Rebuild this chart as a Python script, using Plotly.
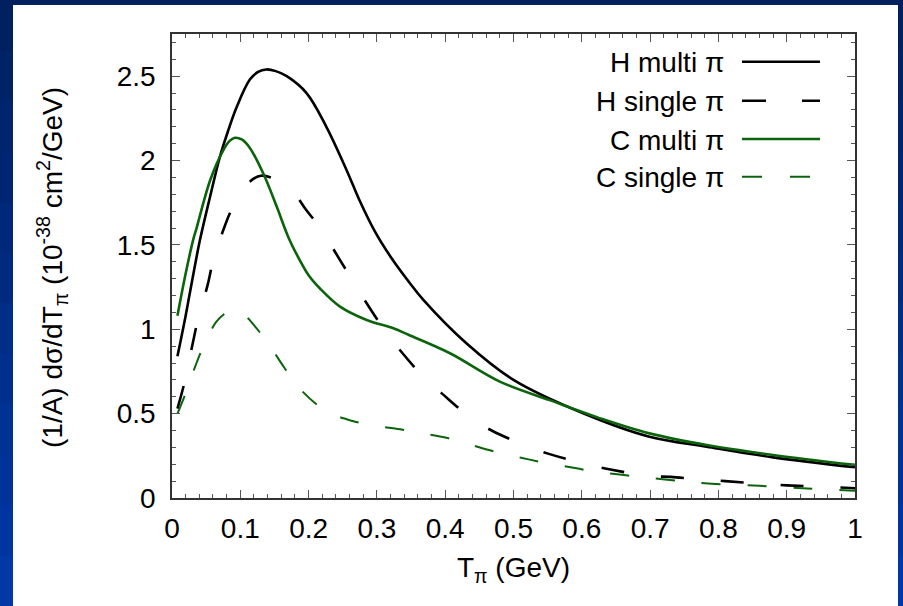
import plotly.graph_objects as go

# ---- data ----
h_multi_x = [0.008, 0.02, 0.03, 0.041, 0.056, 0.07, 0.08, 0.095, 0.114, 0.126, 0.138, 0.152, 0.168,
             0.197, 0.226, 0.256, 0.275, 0.297, 0.32, 0.347, 0.368, 0.431, 0.5, 0.602, 0.699, 0.783, 0.88, 1.0]
h_multi_y = [0.84, 1.08, 1.30, 1.53, 1.79, 2.02, 2.15, 2.32, 2.48, 2.525, 2.54, 2.53, 2.50,
             2.40, 2.20, 1.94, 1.76, 1.58, 1.43, 1.28, 1.174, 0.917, 0.70, 0.502, 0.363, 0.304, 0.241, 0.182]

h_single_x = [0.008, 0.018, 0.03, 0.037, 0.052, 0.06, 0.078, 0.091, 0.11, 0.13, 0.158, 0.18, 0.196,
              0.217, 0.246, 0.281, 0.312, 0.333, 0.37, 0.395, 0.439, 0.468, 0.518, 0.553, 0.607,
              0.64, 0.70, 0.73, 0.78, 0.81, 0.87, 0.90, 0.96, 1.0]
h_single_y = [0.53, 0.68, 0.91, 1.04, 1.26, 1.40, 1.62, 1.74, 1.86, 1.91, 1.875, 1.80, 1.71,
              1.60, 1.41, 1.18, 0.99, 0.88, 0.71, 0.62, 0.47, 0.40, 0.31, 0.26, 0.20,
              0.17, 0.13, 0.125, 0.108, 0.10, 0.082, 0.075, 0.065, 0.058]

c_multi_x = [0.008, 0.02, 0.031, 0.036, 0.056, 0.075, 0.084, 0.092, 0.102, 0.114, 0.134, 0.153, 0.171,
             0.187, 0.20, 0.217, 0.246, 0.285, 0.324, 0.347, 0.407, 0.48, 0.553, 0.627, 0.699, 0.783, 0.88, 1.0]
c_multi_y = [1.08, 1.33, 1.53, 1.60, 1.885, 2.06, 2.115, 2.135, 2.125, 2.075, 1.92, 1.73, 1.54,
             1.41, 1.32, 1.24, 1.134, 1.055, 1.006, 0.966, 0.858, 0.69, 0.58, 0.472, 0.383, 0.314, 0.255, 0.196]

c_single_x = [0.008, 0.019, 0.034, 0.045, 0.065, 0.08, 0.091, 0.10, 0.11, 0.123, 0.14, 0.164, 0.18,
              0.211, 0.234, 0.263, 0.29, 0.334, 0.36, 0.405, 0.43, 0.473, 0.5, 0.522, 0.549,
              0.592, 0.618, 0.662, 0.69, 0.745, 0.79, 0.86, 0.93, 1.0]
c_single_y = [0.50, 0.61, 0.78, 0.89, 1.045, 1.10, 1.115, 1.10, 1.07, 1.01, 0.92, 0.775, 0.68,
              0.557, 0.498, 0.458, 0.433, 0.407, 0.387, 0.354, 0.324, 0.274, 0.249, 0.229, 0.206,
              0.176, 0.156, 0.136, 0.123, 0.10, 0.085, 0.072, 0.056, 0.043]

series_names = ["H multi π", "H single π", "C multi π", "C single π"]

GREEN = "#0b640b"
FONT = "Liberation Sans, Arial, sans-serif"

fig = go.Figure()
styles = [
    (h_multi_x, h_multi_y, "black", "solid", 2.6),
    (h_single_x, h_single_y, "black", "23px,37px", 2.6),
    (c_multi_x, c_multi_y, GREEN, "solid", 2.6),
    (c_single_x, c_single_y, GREEN, "19px,27px", 2.0),
]
for (xs, ys, col, dash, w), name in zip(styles, series_names):
    fig.add_trace(go.Scatter(x=xs, y=ys, mode="lines", name=name,
                             line=dict(color=col, dash=dash, width=w, shape="spline", smoothing=1.0),
                             showlegend=False))

# plot area geometry in pixels
W, H = 903, 606
L, R, T, B = 172, 855, 34, 498
pw, ph = R - L, B - T

def px(p):
    return (p - L) / pw

def py(q):
    return (B - q) / ph

shapes = []
# blue gradient frame (bands) behind everything
n = 12
top_c = (0, 32, 96)
bot_c = (0, 56, 168)
for i in range(n):
    f = i / (n - 1)
    c = tuple(int(top_c[k] + (bot_c[k] - top_c[k]) * f) for k in range(3))
    y0 = i * H / n
    y1 = (i + 1) * H / n + 1
    shapes.append(dict(type="rect", xref="paper", yref="paper", layer="below",
                       x0=px(0), x1=px(W), y0=py(y1), y1=py(y0),
                       fillcolor="rgb(%d,%d,%d)" % c, line=dict(width=0)))
shapes.append(dict(type="rect", xref="paper", yref="paper", layer="below",
                   x0=px(13), x1=px(898), y0=py(606), y1=py(5),
                   fillcolor="white", line=dict(width=0)))

# manual legend (line sample right of the text)
rows = [61.7, 100.7, 139.0, 176.7]
leg_styles = [("black", "solid", 2.6, 820), ("black", "24px,36px", 2.6, 820),
              (GREEN, "solid", 2.6, 820), (GREEN, "20px,28px", 2.0, 810)]
annotations = []
for name, yq, (col, dash, w, xend) in zip(series_names, rows, leg_styles):
    shapes.append(dict(type="line", xref="paper", yref="paper", x0=px(742), x1=px(xend),
                       y0=py(yq), y1=py(yq), line=dict(color=col, dash=dash, width=w)))
    annotations.append(dict(xref="paper", yref="paper", x=px(726), y=py(yq + 1),
                            xanchor="right", yanchor="middle", text=name, showarrow=False,
                            font=dict(family=FONT, size=28, color="black")))

# y-axis title placed as a rotated annotation
annotations.append(dict(xref="paper", yref="paper", x=px(52), y=py(268),
                        xanchor="center", yanchor="middle", textangle=-90, showarrow=False,
                        text="(1/A) dσ/dT<sub>π</sub> (10<sup>-38</sup> cm<sup>2</sup>/GeV)",
                        font=dict(family=FONT, size=28, color="black")))

axis_common = dict(showline=True, linecolor="#333333", linewidth=1.5, mirror="ticks",
                   ticks="inside", ticklen=8, tickwidth=1, tickcolor="#555555",
                   showgrid=False, zeroline=False,
                   tickfont=dict(family=FONT, size=28, color="black"))

fig.update_xaxes(range=[0, 1], dtick=0.1, tick0=0,
                 minor=dict(dtick=0.02, ticks="inside", ticklen=4, tickcolor="#555555"),
                 ticklabelstandoff=5,
                 title=dict(text="T<sub>π</sub> (GeV)", font=dict(family=FONT, size=28, color="black"),
                            standoff=14),
                 **axis_common)
fig.update_yaxes(range=[0, 2.75], dtick=0.5, tick0=0,
                 minor=dict(dtick=0.1, ticks="inside", ticklen=4, tickcolor="#555555"),
                 ticklabelstandoff=9,
                 **axis_common)

fig.update_layout(width=W, height=H, margin=dict(l=L, r=W - R, t=T, b=H - B, pad=0),
                  paper_bgcolor="rgb(0,44,130)", plot_bgcolor="rgba(0,0,0,0)",
                  shapes=shapes, annotations=annotations, showlegend=False)

fig.write_html("out.html")
